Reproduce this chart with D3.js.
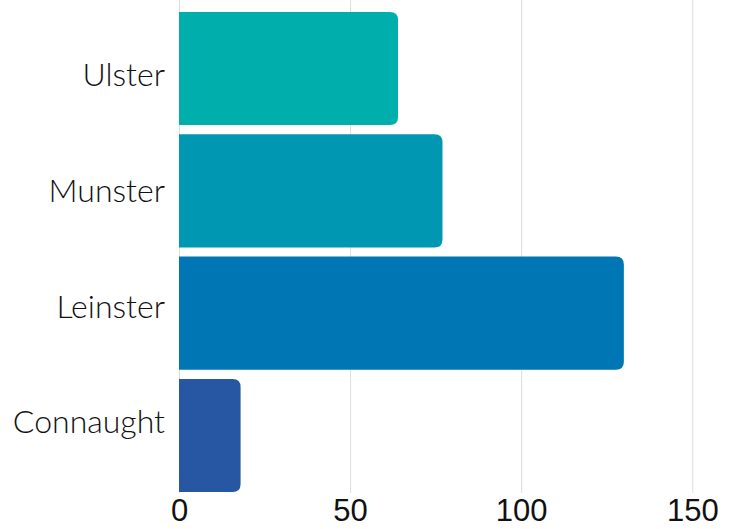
<!DOCTYPE html>
<html>
<head>
<meta charset="utf-8">
<script src="https://cdn.jsdelivr.net/npm/d3@7.9.0/dist/d3.min.js"></script>
<style>
  body { margin: 0; background: #fff; }
  svg { display: block; }
  .cat { font-family: Lato, "Noto Sans", sans-serif; font-size: 32px; font-weight: 300; fill: #111; }
  .tick text { font-family: "Liberation Sans", Arial, sans-serif; font-size: 31px; fill: #111; }
</style>
</head>
<body>
<svg width="737" height="529"></svg>
<script>
// provinces, top to bottom
const provinces = ['Ulster', 'Munster', 'Leinster', 'Connaught'];
const counts = [64, 77, 130, 18];
const barColors = ['#00aeab', '#0097b3', '#0077b4', '#2756a2'];
const tickValues = [0, 50, 100, 150];

const svg = d3.select('svg');
const x = d3.scaleLinear().domain([0, 160]).range([179, 179 + 3.422 * 160]);
const y = d3.scaleBand().domain(provinces).range([12, 492]).paddingInner(0.075).paddingOuter(0);
// labels sit a little off the bar centres in the original
const yLabel = d3.scalePoint().domain(provinces).range([75, 422]);

// grid
svg.append('g')
  .selectAll('line')
  .data(tickValues)
  .join('line')
  .attr('x1', d => x(d) + 0.5).attr('x2', d => x(d) + 0.5)
  .attr('y1', 0).attr('y2', 493)
  .attr('stroke', '#dcdcdc').attr('stroke-width', 1);

// bars with rounded right end
const r = 8;
function barPath(d, i) {
  const x0 = x(0), x1 = x(counts[i]), y0 = y(d), h = y.bandwidth();
  return `M${x0},${y0}H${x1 - r}Q${x1},${y0} ${x1},${y0 + r}V${y0 + h - r}Q${x1},${y0 + h} ${x1 - r},${y0 + h}H${x0}Z`;
}
svg.append('g')
  .selectAll('path')
  .data(provinces)
  .join('path')
  .attr('d', barPath)
  .attr('fill', (d, i) => barColors[i]);

// category labels
svg.append('g')
  .selectAll('text')
  .data(provinces)
  .join('text')
  .attr('class', 'cat')
  .attr('x', 165)
  .attr('y', d => yLabel(d))
  .attr('dy', '0.35em')
  .attr('text-anchor', 'end')
  .text(d => d);

// x axis labels
const xAxis = d3.axisBottom(x).tickValues(tickValues).tickSize(0).tickPadding(0);
svg.append('g')
  .attr('transform', 'translate(0,496)')
  .call(xAxis)
  .call(g => g.select('.domain').remove())
  .call(g => g.selectAll('text').attr('dy', '0.8em'));
</script>
</body>
</html>
